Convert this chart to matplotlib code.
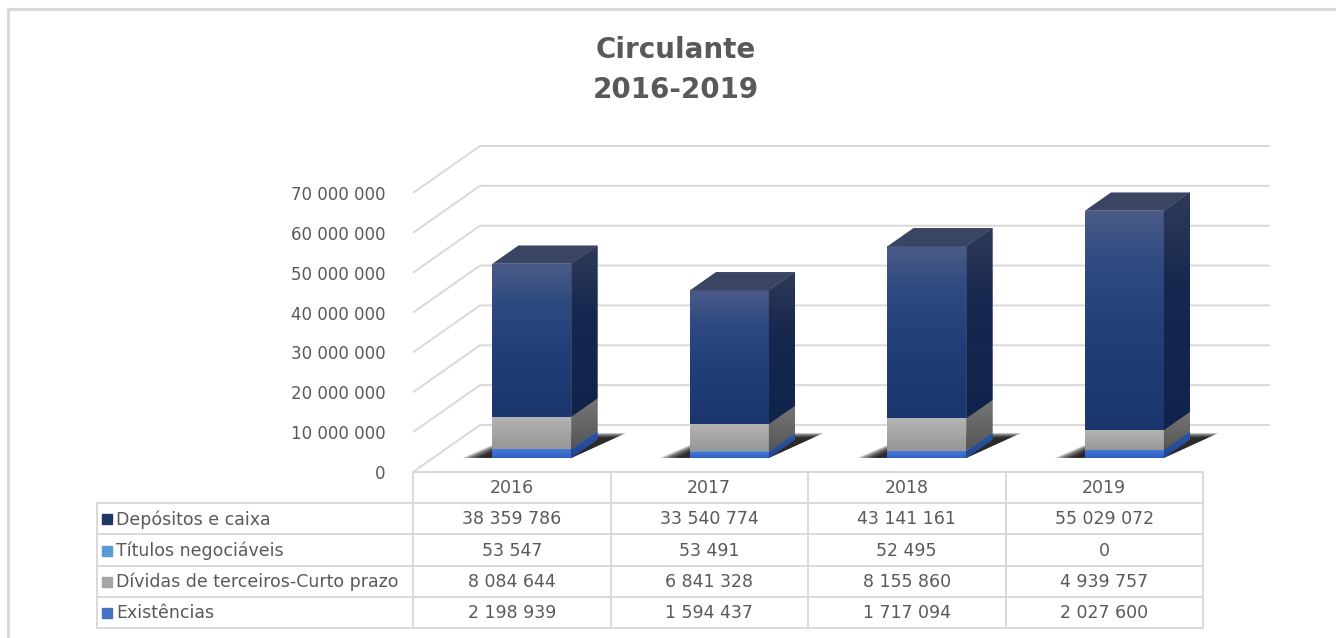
import numpy as np
import matplotlib
matplotlib.use('Agg')
import matplotlib.pyplot as plt
from matplotlib.patches import Polygon, Rectangle
from matplotlib.lines import Line2D
from matplotlib.colors import LinearSegmentedColormap

# dados do gráfico
anos = ['2016', '2017', '2018', '2019']
existencias = [2198939, 1594437, 1717094, 2027600]
titulos = [53547, 53491, 52495, 0]
dividas = [8084644, 6841328, 8155860, 4939757]
depositos = [38359786, 33540774, 43141161, 55029072]
yticks = list(range(0, 70000001, 10000000))

nomes = ['Depósitos e caixa', 'Títulos negociáveis',
         'Dívidas de terceiros-Curto prazo', 'Existências']
cores_legenda = ['#1f3864', '#5b9bd5', '#a5a5a5', '#4472c4']

W, H = 1336, 638
TXT = '#595959'
GRID = '#d9d9d9'


def fmt(v):
    return f'{v:,}'.replace(',', ' ')


fig = plt.figure(figsize=(W / 100, H / 100), dpi=100)
fig.patch.set_facecolor('white')

# moldura do gráfico (só esquerda e topo visíveis)
fig.lines.append(Line2D([8 / W, 8 / W, 1.05], [-0.05, 1 - 9 / H, 1 - 9 / H],
                        transform=fig.transFigure, color=GRID, lw=2.2))

fig.text(676 / W, 1 - 70 / H, 'Circulante\n2016-2019', ha='center', va='center',
         fontsize=20, fontweight='bold', color=TXT, linespacing=1.5)

# escala: px por unidade
ux = 197.5
uy = 3.986 / 1e6
p, q = 1 / ux, 1 / uy   # um pixel em x e em y

ax = fig.add_axes([413 / W, (H - 472) / H, (1272 - 413) / W, (472 - 130) / H])
ax.set_xlim(-0.5, -0.5 + (1272 - 413) / ux)
ax.set_ylim(0, (472 - 130) / uy)
ax.set_facecolor('none')
for s in ax.spines.values():
    s.set_visible(False)
ax.set_xticks([])
ax.set_yticks(yticks)
ax.set_yticklabels([fmt(v) for v in yticks])
ax.tick_params(axis='y', length=0, pad=20, labelsize=12, labelcolor=TXT)

# profundidade (parede de fundo)
bdx = 67 * p
bdy = 47 * q
for v in yticks:
    ax.plot([-0.5, -0.5 + bdx, 3.5 + bdx], [v, v + bdy, v + bdy],
            color=GRID, lw=1.4, zorder=1, clip_on=False, solid_capstyle='butt')

# barras 3D
fdx, fdy = 0.30 * bdx, 0.30 * bdy
ddx, ddy = 0.39 * bdx, 0.39 * bdy
w = 79 * p


def gradiente(patch, stops):
    cmap = LinearSegmentedColormap.from_list('g', stops)
    if isinstance(patch, Rectangle):
        ext = patch.get_path().get_extents(patch.get_patch_transform())
    else:
        ext = patch.get_path().get_extents()
    im = ax.imshow(np.linspace(0, 1, 256).reshape(-1, 1), cmap=cmap, origin='lower',
                   extent=[ext.x0, ext.x1, ext.y0, ext.y1], aspect='auto',
                   interpolation='bilinear', zorder=patch.get_zorder())
    im.set_clip_path(patch)


series = [existencias, titulos, dividas, depositos]
frente = [
    [(0, '#2f60c4'), (1, '#4779d8')],
    [(0, '#4f8fd0'), (1, '#5b9bd5')],
    [(0, '#969696'), (1, '#b5b5b5')],
    [(0, '#1a366c'), (0.45, '#213f78'), (0.75, '#2e4a80'), (1, '#4b5b88')],
]
lado = [
    [(0, '#22458e'), (1, '#2d55a5')],
    [(0, '#3c70a8'), (1, '#4a80b8')],
    [(0, '#555555'), (1, '#767676')],
    [(0, '#10234a'), (0.6, '#16284f'), (1, '#2f3a58')],
]
topo = '#3a4563'

xs = np.arange(len(anos))
base = np.zeros(len(anos)) + fdy

# sombras no chão (camadas para simular desfoque)
for i in range(len(anos)):
    xl = xs[i] + fdx - w / 2
    xr = xl + w
    b = fdy
    fora = np.array([(xl - 30 * p, b), (xr, b), (xr + 55 * p, b + 25 * q), (xl + 28 * p, b + 25 * q)])
    dentro = np.array([(xl - 12 * p, b), (xr, b), (xr + ddx + 18 * p, b + ddy + 2 * q),
                       (xl + ddx, b + ddy)])
    n = 10
    for k in range(n):
        f = k / (n - 1)
        pts = fora * (1 - f) + dentro * f
        ax.add_patch(Polygon(pts, closed=True, facecolor='black', edgecolor='none',
                             alpha=0.16, zorder=2))

for j, vals in enumerate(series):
    vals = np.array(vals, dtype=float)
    bars = ax.bar(xs + fdx, vals, width=w, bottom=base, color=frente[j][-1][1],
                  edgecolor='none', zorder=4)
    for i, r in enumerate(bars):
        if vals[i] <= 0:
            continue
        gradiente(r, frente[j])
        xr = xs[i] + fdx + w / 2
        b, t = base[i], base[i] + vals[i]
        side = Polygon([(xr, b), (xr + ddx, b + ddy), (xr + ddx, t + ddy), (xr, t)],
                       closed=True, facecolor=lado[j][-1][1], edgecolor='none', zorder=4)
        ax.add_patch(side)
        gradiente(side, lado[j])
    base = base + vals

for i in range(len(anos)):
    xl = xs[i] + fdx - w / 2
    xr = xl + w
    t = base[i]
    ax.add_patch(Polygon([(xl, t), (xr, t), (xr + ddx, t + ddy), (xl + ddx, t + ddy)],
                         closed=True, facecolor=topo, edgecolor='none', zorder=5))

# tabela de dados
lab_w = (413 - 97) * p
tx = fig.add_axes([97 / W, (H - 628) / H, (1203 - 97) / W, (628 - 472) / H])
tx.set_xlim(-0.5 - lab_w, 3.5)
tx.set_ylim(5, 0)
tx.axis('off')
xl0 = -0.5 - lab_w
kw = dict(color=GRID, lw=1.4, clip_on=False, solid_capstyle='projecting')
tx.plot([-0.5, 3.5], [0, 0], **kw)
for r in range(1, 6):
    tx.plot([xl0, 3.5], [r, r], **kw)
for c in [-0.5, 0.5, 1.5, 2.5, 3.5]:
    tx.plot([c, c], [0, 5], **kw)
tx.plot([xl0, xl0], [1, 5], **kw)

for i, a in enumerate(anos):
    tx.text(xs[i], 0.52, a, ha='center', va='center', fontsize=12.5, color=TXT)

linhas = [depositos, titulos, dividas, existencias]
for r, (nome, cor, vals) in enumerate(zip(nomes, cores_legenda, linhas)):
    y = r + 1.52
    tx.plot([xl0 + 10 * p], [y], marker='s', markersize=7, color=cor, clip_on=False)
    tx.text(xl0 + 19 * p, y, nome, ha='left', va='center', fontsize=12.5, color=TXT)
    for i, v in enumerate(vals):
        tx.text(xs[i], y, fmt(v), ha='center', va='center', fontsize=12.5, color=TXT)

fig.savefig('out.png', dpi=100)
